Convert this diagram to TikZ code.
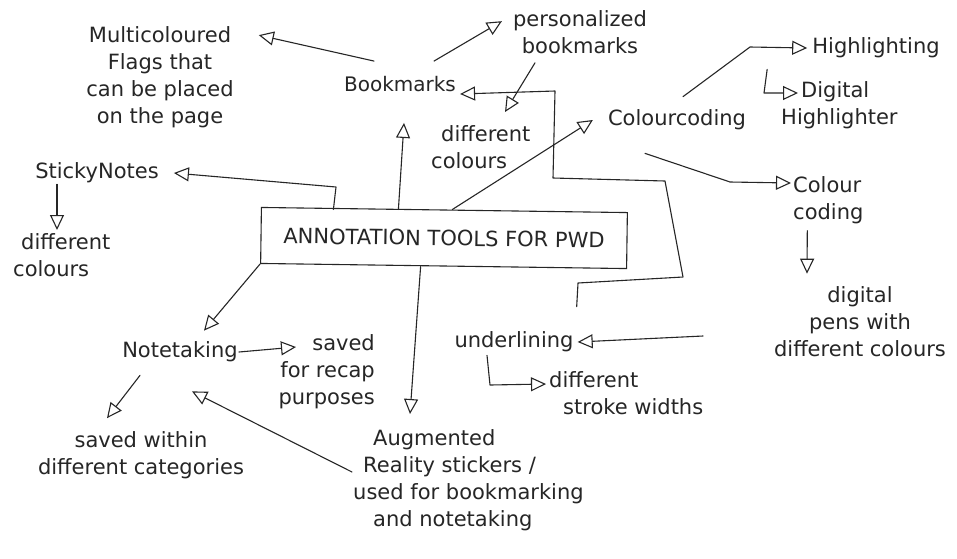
\documentclass[tikz,border=0pt]{standalone}
\usepackage{fontspec}
\setmainfont{DejaVu Sans}
\usetikzlibrary{arrows.meta}
\begin{document}
\begin{tikzpicture}[x=1pt,y=-1pt,
  ink/.style={draw=black!85, line width=1.1pt, line join=round, line cap=round},
  arr/.style={ink, -{Triangle[open,length=15pt,width=14pt]}},
  txt/.style={font=\fontsize{21}{27}\selectfont, text=black!85, inner sep=1pt, align=center},
  lbox/.style={txt, align=left, anchor=north west},
]
\fill[white] (0,0) rectangle (957,558);
\useasboundingbox (0,0) rectangle (957,558);

\node[txt, draw=black!85, line width=1.1pt, minimum width=366pt, minimum height=56pt, rotate=-0.8] (box) at (444,238) {ANNOTATION TOOLS FOR PWD};

\node[txt] (multi) at (160,77) {Multicoloured\\Flags that\\can be placed\\on the page};
\node[txt, font=\fontsize{20}{24}\selectfont] (bookm) at (400,84) {Bookmarks};
\node[txt] (pers) at (580,32) {personalized\\bookmarks};
\node[lbox] (diffa) at (430,124) {\hspace*{10pt}different\\colours};
\node[txt] (colour) at (677,120) {Colourcoding};
\node[txt] (highl) at (876,48) {Highlighting};
\node[lbox] (dighl) at (780,80) {\hspace*{20pt}Digital\\Highlighter};
\node[txt] (sticky) at (97,173) {StickyNotes};
\node[lbox] (diffb) at (12,232) {\hspace*{8pt}different\\colours};
\node[lbox] (ccode) at (792,175) {Colour\\coding};
\node[txt] (pens) at (860,322) {digital\\pens with\\different colours};
\node[txt] (note) at (180,352) {Notetaking};
\node[txt, align=right, anchor=north east] (recap) at (376,333) {saved\\for recap\\purposes};
\node[txt] (under) at (514,342) {underlining};
\node[lbox] (stroke) at (548,370) {different\\\hspace*{14pt}stroke widths};
\node[txt] (cats) at (141,455) {saved within\\different categories};
\node[lbox] (ar) at (352,428) {\hspace*{20pt}Augmented\\\hspace*{10pt}Reality stickers /\\used for bookmarking\\\hspace*{20pt}and notetaking};

\coordinate (k1) at (336,187);
\coordinate (u1) at (578,283);
\coordinate (u2) at (683,277);
\coordinate (u3) at (665,181);
\coordinate (u4) at (553,178);
\coordinate (u5) at (555,91);
\coordinate (n1) at (490,385);
\coordinate (c1) at (730,182);
\coordinate (h1) at (750,47);
\coordinate (h2) at (764,93);
\coordinate (ul) at (703,336);

\draw[arr] ([xshift=-111pt]box.north) -- (k1) -- ([xshift=14pt]sticky.east);
\draw[arr] ([xshift=-46pt]box.north) -- ([xshift=4pt,yshift=-30pt]bookm.south);
\draw[arr] ([xshift=8pt]box.north) -- ([xshift=-14pt]colour.west);
\draw[arr] ([xshift=-26pt,yshift=14pt]bookm.north) -- ([xshift=24pt,yshift=-10pt]multi.north east);
\draw[arr] ([xshift=34pt,yshift=14pt]bookm.north) -- ([xshift=-10pt,yshift=-12pt]pers.north west);
\draw[arr] ([xshift=-45pt,yshift=-8pt]pers.south) -- ([xshift=75pt,yshift=12pt]diffa.north west);
\draw[arr] ([xshift=2pt,yshift=24pt]under.north east) -- (u1) -- (u2) -- (u3) -- (u4) -- (u5) -- ([xshift=3pt,yshift=-10pt]bookm.east);
\draw[arr] (box.south west) -- ([xshift=24pt,yshift=10pt]note.north);
\draw[arr] ([xshift=-23pt]box.south) -- ([xshift=58pt,yshift=14pt]ar.north west);
\draw[arr] (note.east) -- ([xshift=-80pt,yshift=-14pt]recap.north east);
\draw[arr] ([xshift=-40pt,yshift=-12pt]note.south) -- ([xshift=-34pt,yshift=12pt]cats.north);
\draw[arr] ([yshift=-44pt]ar.north west) -- ([xshift=12pt,yshift=-28pt]note.south);
\draw[arr] (ul) -- ([xshift=3pt]under.east);
\draw[arr] ([xshift=-27pt,yshift=-2pt]under.south) -- (n1) -- ([xshift=-2pt,yshift=-14pt]stroke.north west);
\draw[arr] ([xshift=-40pt]sticky.south) -- ([xshift=45pt,yshift=2pt]diffb.north west);
\draw[arr] ([xshift=-32pt,yshift=-22pt]colour.south) -- (c1) -- ([xshift=-1pt,yshift=-8pt]ccode.north west);
\draw[arr] ([xshift=-21pt,yshift=-6pt]ccode.south) -- ([xshift=-53pt,yshift=12pt]pens.north);
\draw[arr] ([xshift=6pt,yshift=12pt]colour.north) -- (h1) -- ([xshift=-4pt]highl.west);
\draw[arr] ([xshift=-44pt,yshift=-10pt]highl.south west) -- (h2) -- ([xshift=18pt,yshift=-13pt]dighl.north west);
\end{tikzpicture}
\end{document}
